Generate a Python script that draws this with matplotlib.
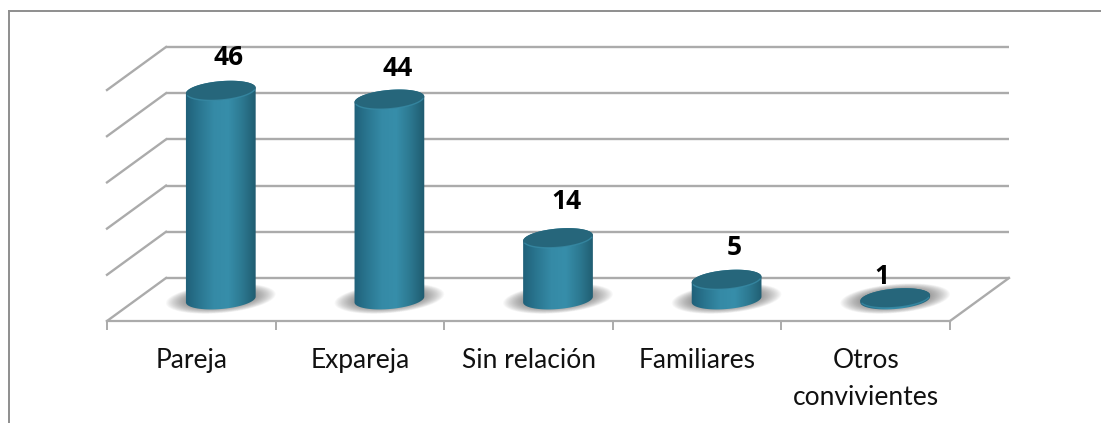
import numpy as np
import matplotlib
matplotlib.use('Agg')
import matplotlib.pyplot as plt
from matplotlib.colors import LinearSegmentedColormap
from matplotlib.lines import Line2D
from matplotlib.patches import PathPatch, Polygon
from matplotlib.path import Path

plt.rcParams['font.family'] = ['Lato', 'DejaVu Sans']

categories = ['Pareja', 'Expareja', 'Sin relación', 'Familiares', 'Otros\nconvivientes']
labels = [46, 44, 14, 5, 1]
# heights, in axis units
heights = [45.2, 43.3, 13.3, 4.3, 0.3]
grid_values = [0, 10, 20, 30, 40, 50]

W, H = 1101, 423
# pixels of the front floor edge and the top of the back wall
left_px, right_px, top_px, front_px = 107, 950, 47, 321
depth_x_px, depth_y_px = 59, 43
grid_col = '#ABABAB'
frame_col = '#8E8E8E'

fig = plt.figure(figsize=(W / 100, H / 100), dpi=100)
ax = fig.add_axes([left_px / W, 1 - front_px / H, (right_px - left_px) / W, (front_px - top_px) / H])

unit_x = (right_px - left_px) / 5
unit_y = (278 - top_px) / 50
dx = depth_x_px / unit_x
dy = depth_y_px / unit_y
x0 = np.arange(len(categories)) + 0.5

ax.set_xlim(0, 5)
ax.set_ylim(-dy, 50)
for s in ['top', 'left', 'right']:
    ax.spines[s].set_visible(False)
ax.spines['bottom'].set_color(grid_col)
ax.spines['bottom'].set_linewidth(1.6)
ax.set_yticks([])
ax.set_xticks(range(6))
ax.set_xticklabels([])
ax.set_xticks(x0, minor=True)
ax.set_xticklabels(categories, minor=True, fontsize=19, color='#111111', linespacing=1.62, va='top')
ax.tick_params(axis='x', which='major', length=6.5, width=1.4, color=grid_col)
ax.tick_params(axis='x', which='minor', length=0, pad=19.5)

# back wall and left side wall
for v in grid_values:
    ax.plot([dx, 5 + dx], [v, v], color=grid_col, lw=1.7, clip_on=False, zorder=1, solid_capstyle='butt')
    ax.plot([0, dx], [v - dy, v], color=grid_col, lw=1.7, clip_on=False, zorder=1)
ax.plot([5, 5 + dx], [-dy, 0], color=grid_col, lw=1.7, clip_on=False, zorder=1)


def ellipse(cx, cy, rx, ry, t):
    # tilted ellipse, sizes in pixels, centre in data units
    a = np.radians(5)
    px = rx * np.cos(t) * np.cos(a) - ry * np.sin(t) * np.sin(a)
    py = rx * np.cos(t) * np.sin(a) + ry * np.sin(t) * np.cos(a)
    return np.column_stack([cx + px / unit_x, cy + py / unit_y])


body_cmap = LinearSegmentedColormap.from_list(
    'body', ['#1F5F78', '#2A7690', '#358AA6', '#378EAA', '#2C7890', '#1F5A6E'])
gradient = np.linspace(0, 1, 256).reshape(1, -1)
base = -dy / 2
full = np.linspace(0, 2 * np.pi, 120)
upper = np.linspace(0, np.pi, 60)
lower = np.linspace(np.pi, 2 * np.pi, 60)

for i, h in enumerate(heights):
    cx = x0[i] + dx / 2
    top = base + h

    # soft shadow on the floor
    for k in np.linspace(1, 0.5, 26):
        ax.add_patch(Polygon(ellipse(cx, base + 0.2, 55 * k, 14.5 * k, full), closed=True,
                             fc='#555555', ec='none', alpha=0.04, zorder=2, clip_on=False))

    # cylinder body with the horizontal shading
    outline = np.vstack([ellipse(cx, top, 35, 9.5, upper), ellipse(cx, base, 35, 9.5, lower)])
    clip = PathPatch(Path(np.vstack([outline, outline[:1]])), transform=ax.transData, fc='none', ec='none')
    ax.add_patch(clip)
    im = ax.imshow(gradient, extent=[cx - 36 / unit_x, cx + 36 / unit_x, base - 12 / unit_y, top + 12 / unit_y],
                   cmap=body_cmap, aspect='auto', interpolation='bilinear', zorder=3)
    im.set_clip_path(clip)

    # cap of the cylinder with a light rim below it
    ax.add_patch(Polygon(ellipse(cx, top, 35, 9.5, full), closed=True, fc='#26667B', ec='none', zorder=4, clip_on=False))
    rim = ellipse(cx, top, 34.5, 9.3, np.linspace(np.pi * 1.08, np.pi * 1.92, 50))
    ax.plot(rim[:, 0], rim[:, 1], color='#3A90AC', lw=1.0, alpha=0.7, zorder=5, clip_on=False)

ax.set_xlim(0, 5)
ax.set_ylim(-dy, 50)

# data labels, offsets in pixels from the top of each bar
label_dx = [8, 8, 8, 8, -13]
label_dy = [33, 31, 37, 32, 22]
for i, (lab, h) in enumerate(zip(labels, heights)):
    ax.annotate(str(lab), (x0[i] + dx / 2, base + h),
                xytext=(label_dx[i] * 0.72, label_dy[i] * 0.72), textcoords='offset points',
                ha='center', va='center', fontsize=19, fontweight='bold', family='Open Sans', color='black',
                annotation_clip=False, zorder=6)

# chart frame, open to the right and at the bottom
fig.add_artist(Line2D([9 / W, 9 / W], [0, 1 - 11 / H], color=frame_col, lw=1.4))
fig.add_artist(Line2D([9 / W, 1], [1 - 11 / H, 1 - 11 / H], color=frame_col, lw=1.4))

plt.savefig('out.png', dpi=100)
